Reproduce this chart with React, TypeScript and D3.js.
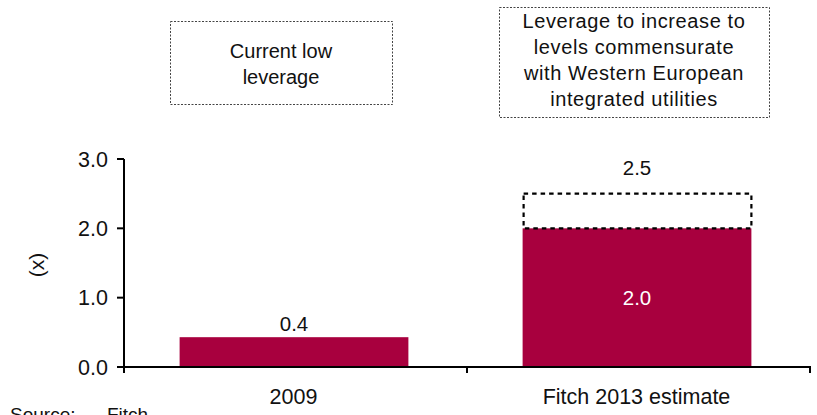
import React from "react";
import * as d3 from "d3";

// Net leverage (x) by period
const categories = ["2009", "Fitch 2013 estimate"];
const leverage = [0.43, 2.0];
// Target leverage shown as a dashed outline above the second bar
const targetCategory = "Fitch 2013 estimate";
const targetLeverage = 2.5;
const yTicks = [0, 1, 2, 3];

const noteLeft = ["Current low", "leverage"];
const noteRight = [
  "Leverage to increase to",
  "levels commensurate",
  "with Western European",
  "integrated utilities",
];

const W = 817;
const H = 415;
const FONT = "'Liberation Sans', Arial, sans-serif";
const BAR = "#A8003E";

export default function App() {
  const y = d3.scaleLinear().domain([0, 3]).range([367, 159]);
  const x = d3.scaleBand<string>().domain(categories).range([124, 810]).padding(0);
  const barW = x.bandwidth() * 0.667;
  const barX = (c: string) => (x(c) as number) + (x.bandwidth() - barW) / 2 - 1.5;
  const boundaries = [124, ...categories.map((c) => (x(c) as number) + x.bandwidth())];
  const fmt = d3.format(".1f");

  return (
    <svg
      width={W}
      height={H}
      style={{ position: "absolute", left: 0, top: 0, background: "#fff" }}
      fontFamily={FONT}
    >
      {/* annotation boxes */}
      <rect x={170.5} y={21.5} width={222} height={83} fill="none" stroke="#444" strokeWidth={1} strokeDasharray="2,1.5" />
      {noteLeft.map((t, i) => (
        <text key={t} x={281} y={58 + i * 26} textAnchor="middle" fontSize={20} fill="#111">
          {t}
        </text>
      ))}
      <rect x={499.5} y={7.5} width={270} height={110} fill="none" stroke="#444" strokeWidth={1} strokeDasharray="2,1.5" />
      {noteRight.map((t, i) => (
        <text key={t} x={634} y={28 + i * 26} textAnchor="middle" fontSize={20} letterSpacing={0.6} fill="#111">
          {t}
        </text>
      ))}

      {/* bars */}
      {categories.map((c, i) => (
        <g key={c}>
          <rect x={barX(c)} y={y(leverage[i])} width={barW} height={y(0) - y(leverage[i])} fill={BAR} />
          {leverage[i] < 1 ? (
            <text x={barX(c) + barW / 2} y={y(leverage[i]) - 6} textAnchor="middle" fontSize={20.5} fill="#111">
              {fmt(leverage[i])}
            </text>
          ) : (
            <text x={barX(c) + barW / 2} y={(y(leverage[i]) + y(0)) / 2 + 7} textAnchor="middle" fontSize={20.5} fill="#fff">
              {fmt(leverage[i])}
            </text>
          )}
        </g>
      ))}

      {/* target outline */}
      {(() => {
        const i = categories.indexOf(targetCategory);
        const bx = barX(targetCategory);
        return (
          <g>
            <rect
              x={bx + 1}
              y={y(targetLeverage)}
              width={barW - 1}
              height={y(leverage[i]) - y(targetLeverage)}
              fill="none"
              stroke="#000"
              strokeWidth={2.2}
              strokeDasharray="4.5,4"
            />
            <text x={bx + barW / 2} y={y(targetLeverage) - 19} textAnchor="middle" fontSize={20.5} fill="#111">
              {fmt(targetLeverage)}
            </text>
          </g>
        );
      })()}

      {/* y axis */}
      <line x1={124} x2={124} y1={y(3)} y2={373} stroke="#000" strokeWidth={2} />
      {yTicks.map((t) => (
        <g key={t}>
          <line x1={117} x2={124} y1={y(t)} y2={y(t)} stroke="#000" strokeWidth={2} />
          <text x={108} y={y(t) + 7.5} textAnchor="end" fontSize={21.5} fill="#111">
            {fmt(t)}
          </text>
        </g>
      ))}
      <text
        transform={`translate(44, ${y(1.5) + 2}) rotate(-90)`}
        textAnchor="middle"
        fontSize={21}
        fill="#111"
      >
        (x)
      </text>

      {/* x axis */}
      <line x1={123} x2={811} y1={y(0)} y2={y(0)} stroke="#000" strokeWidth={2} />
      {boundaries.map((b) => (
        <line key={b} x1={b} x2={b} y1={y(0)} y2={373} stroke="#000" strokeWidth={2} />
      ))}
      {categories.map((c) => (
        <text key={c} x={(x(c) as number) + x.bandwidth() / 2 - 2} y={404} textAnchor="middle" fontSize={21.5} fill="#111">
          {c}
        </text>
      ))}

      {/* source */}
      <text x={10} y={421} fontSize={19} fill="#111">Source:</text>
      <text x={107} y={421} fontSize={19} fill="#111">Fitch</text>
    </svg>
  );
}
